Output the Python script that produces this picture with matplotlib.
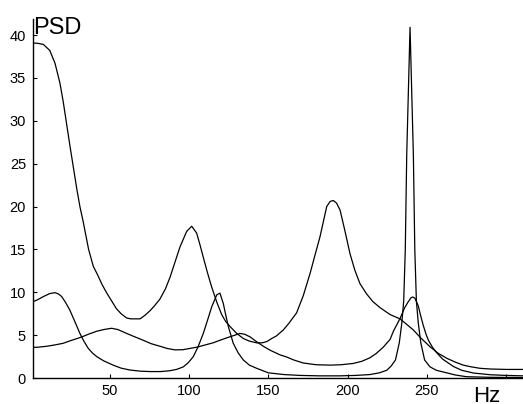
import matplotlib
matplotlib.use("Agg")
import matplotlib.pyplot as plt

plt.rcParams['font.family'] = ['Liberation Sans', 'DejaVu Sans']

# Power spectral density estimates (frequency in Hz, PSD value)
freq_a = [0, 4, 8, 12, 15.3, 18.4, 20.5, 24.7, 29, 31, 33, 36.5, 39.5, 42, 45, 48,
          51, 54, 57, 60.5, 63, 69, 72, 75.3, 78, 81.5, 85, 88, 91, 94.2, 98.4,
          101.6, 104.7, 107, 109, 111.5, 114.2, 117.5, 120.5, 123, 125.8, 130,
          134.2, 138, 142.6, 146, 149, 152, 155, 159.4, 163, 167.8, 172, 176.3,
          179.5, 182.6, 186.8, 189, 191, 193, 195.2, 198, 201.5, 204.5, 207.8,
          212, 216, 220.5, 226.8, 233, 237, 241.5, 246, 252, 257, 262.6, 268,
          273, 278, 283.6, 290, 300, 311]
psd_a = [39.05, 39.05, 38.9, 38.2, 36.7, 34.4, 32.2, 27.1, 22.1, 20.0, 18.3, 15.0,
         13.0, 12.1, 10.9, 9.9, 9.0, 8.1, 7.5, 7.0, 6.9, 6.9, 7.3, 7.85, 8.4, 9.2,
         10.4, 11.8, 13.5, 15.3, 17.1, 17.7, 16.9, 15.4, 14.0, 12.3, 10.6, 8.8,
         7.4, 6.6, 6.0, 5.2, 4.6, 4.3, 4.1, 4.1, 4.25, 4.6, 4.9, 5.6, 6.4, 7.6,
         9.6, 12.2, 14.4, 16.5, 20.0, 20.6, 20.7, 20.4, 19.6, 17.4, 14.5, 12.6,
         11.0, 9.8, 8.9, 8.2, 7.4, 6.9, 6.3, 5.6, 4.7, 3.65, 2.9, 2.3, 1.85, 1.5,
         1.3, 1.13, 1.05, 1.0, 1.0]

freq_b = [0, 4, 8, 12, 15.3, 17.5, 19.5, 22, 24.7, 28, 31, 33.5, 36.3, 39, 41.6,
          46, 52, 57, 62.6, 69, 75.2, 82, 87.9, 92, 96.3, 99.5, 102.6, 105.5,
          108.9, 111.5, 114.2, 117.4, 119.4, 121.5, 123, 124.7, 127.8, 131,
          134.2, 138, 142.6, 150, 160, 170, 182.6, 195, 205, 214, 220, 224.7,
          227.5, 230.2, 232.6, 234.2, 235.4, 236.4, 237.3, 239.4, 241.5, 242.4,
          243.4, 244.6, 246.2, 248.6, 252, 256, 262.6, 268, 275, 290, 311]
psd_b = [8.8, 9.1, 9.5, 9.85, 9.95, 9.8, 9.5, 8.8, 7.9, 6.5, 5.2, 4.3, 3.45, 2.9,
         2.5, 2.0, 1.5, 1.15, 0.93, 0.8, 0.75, 0.75, 0.85, 1.0, 1.3, 1.8, 2.5,
         3.6, 5.2, 6.7, 8.3, 9.7, 9.9, 8.7, 7.4, 6.0, 4.05, 2.9, 2.1, 1.5, 1.13,
         0.6, 0.4, 0.3, 0.25, 0.25, 0.3, 0.4, 0.6, 0.9, 1.4, 2.1, 4.1, 6.4, 9.0,
         15.0, 26.0, 40.9, 26.0, 15.0, 9.0, 6.4, 4.1, 2.1, 1.3, 0.9, 0.6, 0.35,
         0.15, 0.08, 0.05]

freq_c = [0, 5, 10, 15, 20.5, 25, 30, 33, 37, 41.6, 46, 51, 55, 60.5, 65, 71, 76,
          81.6, 86, 91, 96, 100.5, 105, 110, 115, 119.4, 124, 128.9, 132, 135,
          138.4, 142, 146.8, 151, 157.3, 161.5, 166, 172, 180, 189, 196, 203.6,
          209, 214, 218, 222.5, 226.8, 229, 233, 236, 238.3, 240, 241.1, 242.5,
          244.6, 246.2, 247.8, 249.5, 251, 253.5, 256.2, 260, 266.7, 272, 279.4,
          290, 300, 311]
psd_c = [3.55, 3.6, 3.7, 3.85, 4.05, 4.35, 4.65, 4.85, 5.15, 5.45, 5.65, 5.8,
         5.65, 5.2, 4.85, 4.4, 4.0, 3.7, 3.45, 3.28, 3.3, 3.45, 3.6, 3.85, 4.1,
         4.4, 4.7, 5.0, 5.2, 5.1, 4.8, 4.3, 3.7, 3.25, 2.7, 2.45, 2.1, 1.75,
         1.55, 1.5, 1.55, 1.7, 1.95, 2.35, 2.85, 3.6, 4.5, 5.5, 6.9, 8.2, 8.9,
         9.35, 9.45, 9.3, 8.4, 7.2, 6.1, 5.1, 4.4, 3.6, 2.95, 2.2, 1.35, 0.9,
         0.58, 0.38, 0.3, 0.25]

x_ticks = [50, 100, 150, 200, 250, 300]
x_tick_labels = ['50', '100', '150', '200', '250', '']
y_ticks = [0, 5, 10, 15, 20, 25, 30, 35, 40]

fig = plt.figure(figsize=(5.23, 4.04), dpi=100)
ax = fig.add_axes([33 / 523, 26 / 404, 490 / 523, 359 / 404])

for fx, py in [(freq_a, psd_a), (freq_c, psd_c), (freq_b, psd_b)]:
    ax.plot(fx, py, color='black', linewidth=0.9, clip_on=True)

ax.set_xlim(1.4, 310.7)
ax.set_ylim(0, 41.87)
ax.set_xticks(x_ticks)
ax.set_xticklabels(x_tick_labels)
ax.set_yticks(y_ticks)
ax.tick_params(direction='in', length=3, width=0.8, labelsize=10.5,
               colors='black')
ax.tick_params(axis='y', pad=5)
ax.tick_params(axis='x', pad=4)

for side in ('top', 'right'):
    ax.spines[side].set_visible(False)
for side in ('left', 'bottom'):
    ax.spines[side].set_linewidth(1.0)

fig.text(33 / 523, 1 - 34 / 404, 'PSD', fontsize=17, ha='left', va='baseline')
fig.text(473 / 523, 1 - 401.5 / 404, 'Hz', fontsize=16, ha='left', va='baseline')

fig.savefig('out.png', dpi=100)
